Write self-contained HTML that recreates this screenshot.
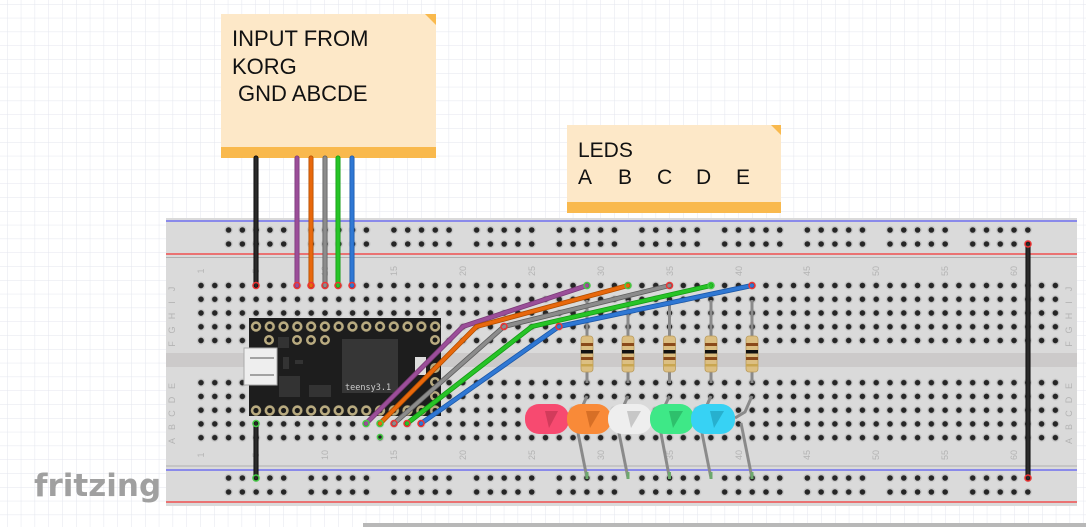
<!DOCTYPE html>
<html><head><meta charset="utf-8"><style>
html,body{margin:0;padding:0;width:1086px;height:527px;overflow:hidden;background:#fff}
svg{display:block}
</style></head><body>
<svg width="1086" height="527" viewBox="0 0 1086 527" xmlns="http://www.w3.org/2000/svg" font-family="Liberation Sans, sans-serif">
<defs>
<pattern id="grid" x="7" y="4" width="13.8" height="13.8" patternUnits="userSpaceOnUse">
<path d="M0 0H13.8M0 0V13.8" stroke="#e3e6ee" stroke-width="1" fill="none"/>
</pattern>
<pattern id="holes" x="194.11" y="278.63" width="13.78" height="13.75" patternUnits="userSpaceOnUse">
<circle cx="6.89" cy="6.875" r="4.2" fill="#c8c8c8"/><circle cx="6.89" cy="6.875" r="2.8" fill="#262626"/>
</pattern>
<pattern id="holesB" x="194.11" y="375.8" width="13.78" height="13.75" patternUnits="userSpaceOnUse">
<circle cx="6.89" cy="6.875" r="4.2" fill="#c8c8c8"/><circle cx="6.89" cy="6.875" r="2.8" fill="#262626"/>
</pattern>
<pattern id="railT" x="221.7" y="223" width="82.68" height="14" patternUnits="userSpaceOnUse">
<g fill="#c8c8c8"><circle cx="6.89" cy="7" r="4.2"/><circle cx="20.67" cy="7" r="4.2"/><circle cx="34.45" cy="7" r="4.2"/><circle cx="48.23" cy="7" r="4.2"/><circle cx="62.01" cy="7" r="4.2"/></g>
<g fill="#262626"><circle cx="6.89" cy="7" r="2.8"/><circle cx="20.67" cy="7" r="2.8"/><circle cx="34.45" cy="7" r="2.8"/><circle cx="48.23" cy="7" r="2.8"/><circle cx="62.01" cy="7" r="2.8"/></g>
</pattern>
<pattern id="railB" x="221.7" y="471" width="82.68" height="14" patternUnits="userSpaceOnUse">
<g fill="#c8c8c8"><circle cx="6.89" cy="7" r="4.2"/><circle cx="20.67" cy="7" r="4.2"/><circle cx="34.45" cy="7" r="4.2"/><circle cx="48.23" cy="7" r="4.2"/><circle cx="62.01" cy="7" r="4.2"/></g>
<g fill="#262626"><circle cx="6.89" cy="7" r="2.8"/><circle cx="20.67" cy="7" r="2.8"/><circle cx="34.45" cy="7" r="2.8"/><circle cx="48.23" cy="7" r="2.8"/><circle cx="62.01" cy="7" r="2.8"/></g>
</pattern>
<pattern id="tpins" x="249.1" y="319.5" width="13.78" height="14" patternUnits="userSpaceOnUse">
<circle cx="6.89" cy="7" r="5.2" fill="#b9ab80"/><circle cx="6.89" cy="7" r="2.6" fill="#1a1a1a"/>
</pattern>
<g id="res">
<rect x="-6" y="-18" width="12" height="36" rx="3" fill="#dcbf82" stroke="#b99b5c" stroke-width="0.8"/>
<rect x="-6" y="-11" width="12" height="3" fill="#8a4a1a"/>
<rect x="-6" y="-4" width="12" height="3.5" fill="#111"/>
<rect x="-6" y="3" width="12" height="3" fill="#8a4a1a"/>
<rect x="-6" y="10" width="12" height="2.5" fill="#c9a650"/>
</g>
</defs>
<rect width="1086" height="527" fill="#fff"/>
<rect width="1086" height="527" fill="url(#grid)"/>
<rect x="363" y="523" width="723" height="4" fill="#b8b8b8"/>

<!-- breadboard -->
<rect x="166" y="218" width="911" height="288" fill="#dadada"/>
<line x1="166" y1="221" x2="1077" y2="221" stroke="#7070f0" stroke-width="1.5"/>
<line x1="166" y1="254" x2="1077" y2="254" stroke="#f05050" stroke-width="1.5"/>
<line x1="166" y1="257.5" x2="1077" y2="257.5" stroke="#b0b0b0" stroke-width="1"/>
<line x1="166" y1="466" x2="1077" y2="466" stroke="#b0b0b0" stroke-width="1"/>
<line x1="166" y1="470" x2="1077" y2="470" stroke="#7070f0" stroke-width="1.5"/>
<line x1="166" y1="502" x2="1077" y2="502" stroke="#f05050" stroke-width="1.5"/>
<rect x="166" y="353" width="911" height="14" fill="#cccaca"/>
<rect x="194.1" y="278.6" width="868.2" height="68.75" fill="url(#holes)"/>
<rect x="194.1" y="375.8" width="868.2" height="68.75" fill="url(#holesB)"/>
<rect x="221.7" y="223" width="813.4" height="28" fill="url(#railT)"/>
<rect x="221.7" y="471" width="813.4" height="28" fill="url(#railB)"/>

<g font-size="9" fill="#b4b4b4">
<g transform="translate(175,0)">
<text transform="translate(0,289) rotate(-90)" text-anchor="middle">J</text>
<text transform="translate(0,302.5) rotate(-90)" text-anchor="middle">I</text>
<text transform="translate(0,316) rotate(-90)" text-anchor="middle">H</text>
<text transform="translate(0,330) rotate(-90)" text-anchor="middle">G</text>
<text transform="translate(0,344) rotate(-90)" text-anchor="middle">F</text>
<text transform="translate(0,386) rotate(-90)" text-anchor="middle">E</text>
<text transform="translate(0,400) rotate(-90)" text-anchor="middle">D</text>
<text transform="translate(0,413.5) rotate(-90)" text-anchor="middle">C</text>
<text transform="translate(0,427) rotate(-90)" text-anchor="middle">B</text>
<text transform="translate(0,441) rotate(-90)" text-anchor="middle">A</text>
</g>
<g transform="translate(1072,0)">
<text transform="translate(0,289) rotate(-90)" text-anchor="middle">J</text>
<text transform="translate(0,302.5) rotate(-90)" text-anchor="middle">I</text>
<text transform="translate(0,316) rotate(-90)" text-anchor="middle">H</text>
<text transform="translate(0,330) rotate(-90)" text-anchor="middle">G</text>
<text transform="translate(0,344) rotate(-90)" text-anchor="middle">F</text>
<text transform="translate(0,386) rotate(-90)" text-anchor="middle">E</text>
<text transform="translate(0,400) rotate(-90)" text-anchor="middle">D</text>
<text transform="translate(0,413.5) rotate(-90)" text-anchor="middle">C</text>
<text transform="translate(0,427) rotate(-90)" text-anchor="middle">B</text>
<text transform="translate(0,441) rotate(-90)" text-anchor="middle">A</text>
</g>
<text transform="translate(204,271) rotate(-90)" text-anchor="middle">1</text>
<text transform="translate(259,271) rotate(-90)" text-anchor="middle">5</text>
<text transform="translate(328,271) rotate(-90)" text-anchor="middle">10</text>
<text transform="translate(397,271) rotate(-90)" text-anchor="middle">15</text>
<text transform="translate(466,271) rotate(-90)" text-anchor="middle">20</text>
<text transform="translate(535,271) rotate(-90)" text-anchor="middle">25</text>
<text transform="translate(604,271) rotate(-90)" text-anchor="middle">30</text>
<text transform="translate(673,271) rotate(-90)" text-anchor="middle">35</text>
<text transform="translate(742,271) rotate(-90)" text-anchor="middle">40</text>
<text transform="translate(810,271) rotate(-90)" text-anchor="middle">45</text>
<text transform="translate(879,271) rotate(-90)" text-anchor="middle">50</text>
<text transform="translate(948,271) rotate(-90)" text-anchor="middle">55</text>
<text transform="translate(1017,271) rotate(-90)" text-anchor="middle">60</text>
<text transform="translate(204,455) rotate(-90)" text-anchor="middle">1</text>
<text transform="translate(259,455) rotate(-90)" text-anchor="middle">5</text>
<text transform="translate(328,455) rotate(-90)" text-anchor="middle">10</text>
<text transform="translate(397,455) rotate(-90)" text-anchor="middle">15</text>
<text transform="translate(466,455) rotate(-90)" text-anchor="middle">20</text>
<text transform="translate(535,455) rotate(-90)" text-anchor="middle">25</text>
<text transform="translate(604,455) rotate(-90)" text-anchor="middle">30</text>
<text transform="translate(673,455) rotate(-90)" text-anchor="middle">35</text>
<text transform="translate(742,455) rotate(-90)" text-anchor="middle">40</text>
<text transform="translate(810,455) rotate(-90)" text-anchor="middle">45</text>
<text transform="translate(879,455) rotate(-90)" text-anchor="middle">50</text>
<text transform="translate(948,455) rotate(-90)" text-anchor="middle">55</text>
<text transform="translate(1017,455) rotate(-90)" text-anchor="middle">60</text>
</g>

<!-- fritzing logo -->
<text x="34" y="496" font-size="31" font-weight="bold" fill="#a0a0a0" font-family="DejaVu Sans, sans-serif" letter-spacing="0">fritzing</text>

<!-- notes -->
<rect x="221" y="14" width="215" height="144" fill="#fde8c8"/>
<path d="M425 14 L436 14 L436 25 Z" fill="#f9b94d"/>
<rect x="221" y="147" width="215" height="11" fill="#f9b94d"/>
<g font-size="22" fill="#111">
<text x="232" y="46">INPUT FROM</text>
<text x="232" y="74">KORG</text>
<text x="238" y="101">GND ABCDE</text>
</g>
<rect x="567" y="125" width="214" height="88" fill="#fde8c8"/>
<path d="M771 125 L781 125 L781 135 Z" fill="#f9b94d"/>
<rect x="567" y="202" width="214" height="11" fill="#f9b94d"/>
<g font-size="21" fill="#111">
<text x="578" y="157">LEDS</text>
<text x="578" y="184">A</text><text x="618" y="184">B</text><text x="657" y="184">C</text><text x="696" y="184">D</text><text x="736" y="184">E</text>
</g>

<!-- teensy -->
<rect x="249" y="318" width="192" height="98" fill="#1d1d1d"/>
<rect x="249.1" y="319.5" width="192.9" height="14" fill="url(#tpins)"/>
<rect x="249.1" y="403" width="192.9" height="14" fill="url(#tpins)"/>
<g fill="#b9ab80"><circle cx="435" cy="340" r="5"/><circle cx="435" cy="368" r="5"/><circle cx="435" cy="382" r="5"/><circle cx="435" cy="396" r="5"/>
<circle cx="269" cy="340" r="5"/><circle cx="297" cy="340" r="5"/><circle cx="311" cy="340" r="5"/><circle cx="325" cy="340" r="5"/></g>
<g fill="#1a1a1a"><circle cx="435" cy="340" r="2.5"/><circle cx="435" cy="368" r="2.5"/><circle cx="435" cy="382" r="2.5"/><circle cx="435" cy="396" r="2.5"/>
<circle cx="269" cy="340" r="2.5"/><circle cx="297" cy="340" r="2.5"/><circle cx="311" cy="340" r="2.5"/><circle cx="325" cy="340" r="2.5"/></g>
<rect x="342" y="339" width="56" height="54" fill="#363636"/>
<text x="345" y="390" font-size="8.5" fill="#ccc" font-family="DejaVu Sans Mono, monospace">teensy3.1</text>
<rect x="278" y="337" width="11" height="11" fill="#333"/>
<rect x="279" y="376" width="21" height="21" fill="#333"/>
<rect x="309" y="385" width="22" height="12" fill="#333"/>
<rect x="283" y="357" width="6" height="12" fill="#333"/>
<rect x="295" y="360" width="8" height="4" fill="#333"/>
<rect x="415" y="357" width="11" height="18" fill="#ddd"/>
<rect x="244" y="348" width="33" height="37" fill="#eee" stroke="#aaa" stroke-width="1"/>
<line x1="250" y1="358" x2="274" y2="358" stroke="#888" stroke-width="1.5"/>
<line x1="250" y1="375" x2="274" y2="375" stroke="#888" stroke-width="1.5"/>

<!-- resistors -->
<g stroke="#8a8a8a" stroke-width="3">
<line x1="587" y1="300" x2="587" y2="383"/><line x1="628" y1="300" x2="628" y2="383"/><line x1="669.5" y1="300" x2="669.5" y2="383"/><line x1="711" y1="300" x2="711" y2="383"/><line x1="752" y1="300" x2="752" y2="383"/>
</g>
<use href="#res" x="587" y="354"/><use href="#res" x="628" y="354"/><use href="#res" x="669.5" y="354"/><use href="#res" x="711" y="354"/><use href="#res" x="752" y="354"/>

<!-- LED legs -->
<g stroke="#8a8a8a" stroke-width="3" fill="none">
<path d="M587 396 L580 412 L570 418"/><path d="M576 423 L587 478"/>
<path d="M628 396 L621 412 L611 418"/><path d="M617 423 L628 478"/>
<path d="M669.5 396 L662 412 L652 418"/><path d="M659 423 L669.5 478"/>
<path d="M711 396 L704 412 L694 418"/><path d="M700 423 L711 478"/>
<path d="M752 396 L745 412 L735 418"/><path d="M741 423 L752 478"/>
</g>
<g stroke="#6da86d" stroke-width="3">
<line x1="587" y1="472" x2="587" y2="479"/><line x1="628" y1="472" x2="628" y2="479"/><line x1="669.5" y1="472" x2="669.5" y2="479"/><line x1="711" y1="472" x2="711" y2="479"/><line x1="752" y1="472" x2="752" y2="479"/>
</g>

<!-- LEDs -->
<g>
<rect x="525" y="404" width="44" height="30" rx="14" fill="#f74a70"/><path d="M545 411 L558 411 L549 428 Z" fill="#c23452" opacity=".7"/>
<rect x="567" y="404" width="44" height="30" rx="14" fill="#f98a38"/><path d="M586 411 L600 411 L590 428 Z" fill="#c96420" opacity=".7"/>
<rect x="608" y="404" width="44" height="30" rx="14" fill="#eeeeee"/><path d="M627 411 L641 411 L631 428 Z" fill="#bdbdbd" opacity=".8"/>
<rect x="650" y="404" width="44" height="30" rx="14" fill="#3ee887"/><path d="M669 411 L683 411 L673 428 Z" fill="#2bb565" opacity=".8"/>
<rect x="691" y="404" width="44" height="30" rx="14" fill="#37d2f4"/><path d="M710 411 L724 411 L714 428 Z" fill="#23a7c4" opacity=".8"/>
</g>

<!-- wires -->
<g fill="none" stroke-linecap="round" stroke-linejoin="round">
<g stroke-width="5">
<path d="M256 158 V285.5" stroke="#000"/>
<path d="M297 158 V285.5" stroke="#7b3b78"/>
<path d="M311 158 V285.5" stroke="#b04e00"/>
<path d="M325 158 V285.5" stroke="#5e5e5e"/>
<path d="M338 158 V285.5" stroke="#149a14"/>
<path d="M352 158 V285.5" stroke="#1c58a8"/>
<path d="M256 423.5 V478" stroke="#000"/>
<path d="M1028 244 V478" stroke="#000"/>
<path d="M366 423.5 L463 326.5 L587 285.5" stroke="#7b3b78"/>
<path d="M380 423.5 L476.6 326.5 L628 285.5" stroke="#b04e00"/>
<path d="M394 423.5 L504 326.5 L669.5 285.5" stroke="#5e5e5e"/>
<path d="M407 423.5 L532 326.5 L711 285.5" stroke="#149a14"/>
<path d="M421 423.5 L559 326.5 L752 285.5" stroke="#1c58a8"/>
</g>
<g stroke-width="3.4">
<path d="M256 158 V285.5" stroke="#2a2a2a"/>
<path d="M297 158 V285.5" stroke="#9b4e99"/>
<path d="M311 158 V285.5" stroke="#e8680c"/>
<path d="M325 158 V285.5" stroke="#8c8c8c"/>
<path d="M338 158 V285.5" stroke="#27c427"/>
<path d="M352 158 V285.5" stroke="#2f78d4"/>
<path d="M256 423.5 V478" stroke="#2a2a2a"/>
<path d="M1028 244 V478" stroke="#2a2a2a"/>
<path d="M366 423.5 L463 326.5 L587 285.5" stroke="#9b4e99"/>
<path d="M380 423.5 L476.6 326.5 L628 285.5" stroke="#e8680c"/>
<path d="M394 423.5 L504 326.5 L669.5 285.5" stroke="#8c8c8c"/>
<path d="M407 423.5 L532 326.5 L711 285.5" stroke="#27c427"/>
<path d="M421 423.5 L559 326.5 L752 285.5" stroke="#2f78d4"/>
</g>
</g>
<g stroke-width="1.5" fill="none">
<g stroke="#e33">
<circle cx="256" cy="285.5" r="3"/><circle cx="297" cy="285.5" r="3"/><circle cx="311" cy="285.5" r="3"/><circle cx="325" cy="285.5" r="3"/><circle cx="338" cy="285.5" r="3"/><circle cx="352" cy="285.5" r="3"/>
<circle cx="1028" cy="244" r="3"/><circle cx="1028" cy="478" r="3"/>
<circle cx="394" cy="423.5" r="3"/><circle cx="407" cy="423.5" r="3"/><circle cx="421" cy="423.5" r="3"/>
<circle cx="669.5" cy="285.5" r="3"/><circle cx="752" cy="285.5" r="3"/><circle cx="559" cy="326.5" r="3"/><circle cx="504" cy="326.5" r="3"/>
</g>
<g stroke="#4c4">
<circle cx="256" cy="423.5" r="3"/><circle cx="256" cy="478" r="3"/><circle cx="366" cy="423.5" r="3"/><circle cx="380" cy="423.5" r="3"/><circle cx="380" cy="437" r="2.5"/>
<circle cx="587" cy="285.5" r="3"/><circle cx="628" cy="285.5" r="3"/><circle cx="711" cy="285.5" r="3"/>
</g>
</g>
</svg>
</body></html>
